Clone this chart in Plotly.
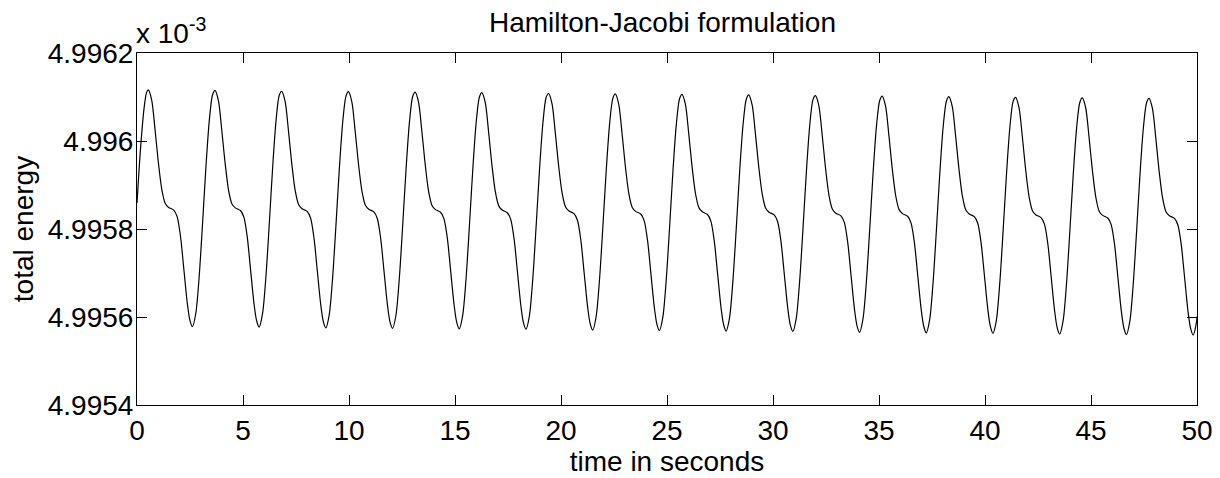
import plotly.graph_objects as go


# Total energy (units of 1e-3), one row per oscillation
time_s = [
    0.000, 0.170, 0.330, 0.450,
    0.533, 0.693, 0.853, 1.013, 1.173, 1.333, 1.493, 1.733, 1.893, 2.053, 2.213, 2.373, 2.493, 2.613, 2.773, 2.933, 3.093, 3.253, 3.413, 3.563,
    3.680, 3.840, 4.000, 4.160, 4.320, 4.480, 4.640, 4.880, 5.040, 5.200, 5.360, 5.520, 5.640, 5.760, 5.920, 6.080, 6.240, 6.400, 6.560, 6.710,
    6.827, 6.987, 7.147, 7.307, 7.467, 7.627, 7.787, 8.027, 8.187, 8.347, 8.507, 8.667, 8.787, 8.907, 9.067, 9.227, 9.387, 9.547, 9.707, 9.857,
    9.974, 10.134, 10.294, 10.454, 10.614, 10.774, 10.934, 11.174, 11.334, 11.494, 11.654, 11.814, 11.934, 12.054, 12.214, 12.374, 12.534, 12.694, 12.854, 13.004,
    13.121, 13.281, 13.441, 13.601, 13.761, 13.921, 14.081, 14.321, 14.481, 14.641, 14.801, 14.961, 15.081, 15.201, 15.361, 15.521, 15.681, 15.841, 16.001, 16.151,
    16.268, 16.428, 16.588, 16.748, 16.908, 17.068, 17.228, 17.468, 17.628, 17.788, 17.948, 18.108, 18.228, 18.348, 18.508, 18.668, 18.828, 18.988, 19.148, 19.298,
    19.415, 19.575, 19.735, 19.895, 20.055, 20.215, 20.375, 20.615, 20.775, 20.935, 21.095, 21.255, 21.375, 21.495, 21.655, 21.815, 21.975, 22.135, 22.295, 22.445,
    22.562, 22.722, 22.882, 23.042, 23.202, 23.362, 23.522, 23.762, 23.922, 24.082, 24.242, 24.402, 24.522, 24.642, 24.802, 24.962, 25.122, 25.282, 25.442, 25.592,
    25.709, 25.869, 26.029, 26.189, 26.349, 26.509, 26.669, 26.909, 27.069, 27.229, 27.389, 27.549, 27.669, 27.789, 27.949, 28.109, 28.269, 28.429, 28.589, 28.739,
    28.856, 29.016, 29.176, 29.336, 29.496, 29.656, 29.816, 30.056, 30.216, 30.376, 30.536, 30.696, 30.816, 30.936, 31.096, 31.256, 31.416, 31.576, 31.736, 31.886,
    32.003, 32.163, 32.323, 32.483, 32.643, 32.803, 32.963, 33.203, 33.363, 33.523, 33.683, 33.843, 33.963, 34.083, 34.243, 34.403, 34.563, 34.723, 34.883, 35.033,
    35.150, 35.310, 35.470, 35.630, 35.790, 35.950, 36.110, 36.350, 36.510, 36.670, 36.830, 36.990, 37.110, 37.230, 37.390, 37.550, 37.710, 37.870, 38.030, 38.180,
    38.297, 38.457, 38.617, 38.777, 38.937, 39.097, 39.257, 39.497, 39.657, 39.817, 39.977, 40.137, 40.257, 40.377, 40.537, 40.697, 40.857, 41.017, 41.177, 41.327,
    41.444, 41.604, 41.764, 41.924, 42.084, 42.244, 42.404, 42.644, 42.804, 42.964, 43.124, 43.284, 43.404, 43.524, 43.684, 43.844, 44.004, 44.164, 44.324, 44.474,
    44.591, 44.751, 44.911, 45.071, 45.231, 45.391, 45.551, 45.791, 45.951, 46.111, 46.271, 46.431, 46.551, 46.671, 46.831, 46.991, 47.151, 47.311, 47.471, 47.621,
    47.738, 47.898, 48.058, 48.218, 48.378, 48.538, 48.698, 48.938, 49.098, 49.258, 49.418, 49.578, 49.698, 49.818, 49.978, 50.000,
]

energy = [
    4.995859, 4.995985, 4.996073, 4.996110,
    4.996116, 4.996093, 4.996025, 4.995949, 4.995889, 4.995858, 4.995849, 4.995843, 4.995828, 4.995783, 4.995707, 4.995631, 4.995593, 4.995578, 4.995608, 4.995692, 4.995813, 4.995942, 4.996048, 4.996105,
    4.996115, 4.996092, 4.996024, 4.995948, 4.995888, 4.995857, 4.995848, 4.995842, 4.995827, 4.995782, 4.995706, 4.995630, 4.995592, 4.995577, 4.995607, 4.995691, 4.995812, 4.995941, 4.996047, 4.996104,
    4.996113, 4.996090, 4.996022, 4.995946, 4.995886, 4.995855, 4.995846, 4.995840, 4.995825, 4.995780, 4.995704, 4.995628, 4.995590, 4.995575, 4.995605, 4.995689, 4.995810, 4.995939, 4.996045, 4.996102,
    4.996112, 4.996089, 4.996021, 4.995945, 4.995885, 4.995854, 4.995845, 4.995839, 4.995824, 4.995779, 4.995703, 4.995627, 4.995589, 4.995574, 4.995604, 4.995688, 4.995809, 4.995938, 4.996044, 4.996101,
    4.996111, 4.996088, 4.996020, 4.995944, 4.995884, 4.995853, 4.995844, 4.995838, 4.995823, 4.995778, 4.995702, 4.995626, 4.995588, 4.995573, 4.995603, 4.995687, 4.995808, 4.995937, 4.996043, 4.996100,
    4.996110, 4.996087, 4.996019, 4.995943, 4.995883, 4.995852, 4.995843, 4.995837, 4.995822, 4.995777, 4.995701, 4.995625, 4.995587, 4.995572, 4.995602, 4.995686, 4.995807, 4.995936, 4.996042, 4.996099,
    4.996108, 4.996085, 4.996017, 4.995941, 4.995881, 4.995850, 4.995841, 4.995835, 4.995820, 4.995775, 4.995699, 4.995623, 4.995585, 4.995570, 4.995600, 4.995684, 4.995805, 4.995934, 4.996040, 4.996097,
    4.996107, 4.996084, 4.996016, 4.995940, 4.995880, 4.995849, 4.995840, 4.995834, 4.995819, 4.995774, 4.995698, 4.995622, 4.995584, 4.995569, 4.995599, 4.995683, 4.995804, 4.995933, 4.996039, 4.996096,
    4.996106, 4.996083, 4.996015, 4.995939, 4.995879, 4.995848, 4.995839, 4.995833, 4.995818, 4.995773, 4.995697, 4.995621, 4.995583, 4.995568, 4.995598, 4.995682, 4.995803, 4.995932, 4.996038, 4.996095,
    4.996105, 4.996082, 4.996014, 4.995938, 4.995878, 4.995847, 4.995838, 4.995832, 4.995817, 4.995772, 4.995696, 4.995620, 4.995582, 4.995567, 4.995597, 4.995681, 4.995802, 4.995931, 4.996037, 4.996094,
    4.996103, 4.996080, 4.996012, 4.995936, 4.995876, 4.995845, 4.995836, 4.995830, 4.995815, 4.995770, 4.995694, 4.995618, 4.995580, 4.995565, 4.995595, 4.995679, 4.995800, 4.995929, 4.996035, 4.996092,
    4.996102, 4.996079, 4.996011, 4.995935, 4.995875, 4.995844, 4.995835, 4.995829, 4.995814, 4.995769, 4.995693, 4.995617, 4.995579, 4.995564, 4.995594, 4.995678, 4.995799, 4.995928, 4.996034, 4.996091,
    4.996101, 4.996078, 4.996010, 4.995934, 4.995874, 4.995843, 4.995834, 4.995828, 4.995813, 4.995768, 4.995692, 4.995616, 4.995578, 4.995563, 4.995593, 4.995677, 4.995798, 4.995927, 4.996033, 4.996090,
    4.996099, 4.996076, 4.996008, 4.995932, 4.995872, 4.995841, 4.995832, 4.995826, 4.995811, 4.995766, 4.995690, 4.995614, 4.995576, 4.995561, 4.995591, 4.995675, 4.995796, 4.995925, 4.996031, 4.996088,
    4.996098, 4.996075, 4.996007, 4.995931, 4.995871, 4.995840, 4.995831, 4.995825, 4.995810, 4.995765, 4.995689, 4.995613, 4.995575, 4.995560, 4.995590, 4.995674, 4.995795, 4.995924, 4.996030, 4.996087,
    4.996097, 4.996074, 4.996006, 4.995930, 4.995870, 4.995839, 4.995830, 4.995824, 4.995809, 4.995764, 4.995688, 4.995612, 4.995574, 4.995559, 4.995589, 4.995601,
]

y_ticks = [4.9954, 4.9956, 4.9958, 4.996, 4.9962]
y_tick_labels = ["4.9954", "4.9956", "4.9958", "4.996", "4.9962"]

font_family = "Liberation Sans, Arial, sans-serif"

fig = go.Figure()
fig.add_trace(go.Scatter(
    x=time_s, y=energy, mode="lines",
    line=dict(color="black", width=1.2, shape="spline", smoothing=0.8),
    showlegend=False,
))

axis_style = dict(
    showline=True, linecolor="black", linewidth=1, mirror="ticks",
    ticks="inside", ticklen=10, tickcolor="black", tickwidth=1,
    showgrid=False, zeroline=False, automargin=False,
    tickfont=dict(family=font_family, size=28, color="black"),
)

# page body adds an 8px offset, so the figure is 8px smaller on each axis
fig.update_layout(
    width=1212, height=470,
    margin=dict(l=129, r=23, t=45, b=73),
    paper_bgcolor="white", plot_bgcolor="white",
    font=dict(family=font_family, color="black"),
    title=dict(text="Hamilton-Jacobi formulation", x=0.540, xanchor="center",
               y=0.99, yanchor="top", font=dict(size=28)),
    xaxis=dict(range=[0, 50], tickvals=list(range(0, 55, 5)),
               title=dict(text="time in seconds", font=dict(size=28), standoff=0),
               **axis_style),
    yaxis=dict(range=[4.9954, 4.9962], tickvals=y_ticks, ticktext=y_tick_labels,
               ticklabelstandoff=-3,
               title=dict(text="total energy", font=dict(size=28), standoff=6),
               **axis_style),
)

fig.add_annotation(text="x 10<sup>-3</sup>", xref="paper", yref="paper",
                   x=0, y=1, xanchor="left", yanchor="bottom", yshift=2, xshift=-3,
                   showarrow=False, font=dict(family=font_family, size=28, color="black"))

fig.write_html("out.html")
